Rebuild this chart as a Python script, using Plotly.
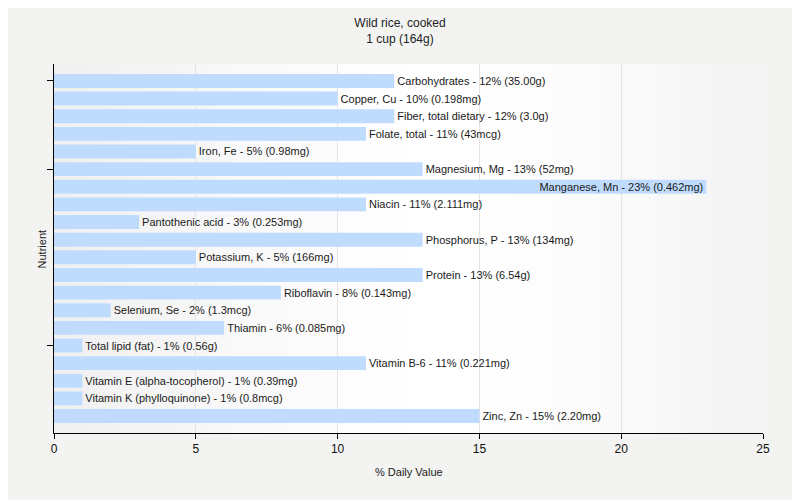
import plotly.graph_objects as go

nutrients = ["Carbohydrates", "Copper, Cu", "Fiber, total dietary", "Folate, total",
             "Iron, Fe", "Magnesium, Mg", "Manganese, Mn", "Niacin", "Pantothenic acid",
             "Phosphorus, P", "Potassium, K", "Protein", "Riboflavin", "Selenium, Se",
             "Thiamin", "Total lipid (fat)", "Vitamin B-6", "Vitamin E (alpha-tocopherol)",
             "Vitamin K (phylloquinone)", "Zinc, Zn"]
daily_value = [12, 10, 12, 11, 5, 13, 23, 11, 3, 13, 5, 13, 8, 2, 6, 1, 11, 1, 1, 15]
amounts = ["35.00g", "0.198mg", "3.0g", "43mcg", "0.98mg", "52mg", "0.462mg", "2.111mg",
           "0.253mg", "134mg", "166mg", "6.54g", "0.143mg", "1.3mcg", "0.085mg", "0.56g",
           "0.221mg", "0.39mg", "0.8mcg", "2.20mg"]
y_ticks = ["Carbohydrates", "Magnesium, Mg", "Total lipid (fat)"]
x_ticks = [0, 5, 10, 15, 20, 25]

FONT = "Liberation Sans, Arial, sans-serif"
labels = [f"{n} - {v}% ({a})" for n, v, a in zip(nutrients, daily_value, amounts)]
positions = ["inside" if v > 20 else "outside" for v in daily_value]

fig = go.Figure()
fig.add_trace(go.Bar(
    y=nutrients, x=daily_value, orientation="h",
    marker=dict(color="#bfdbfd", line=dict(width=0)),
    width=0.79,
    text=labels, textposition=positions, insidetextanchor="end",
    constraintext="none", textangle=0,
    textfont=dict(family=FONT, size=11, color="#1a1a1a"),
    cliponaxis=False, hoverinfo="skip",
))

# background gradient strips in the plot area
n = 40
for i in range(n):
    t = (i + 0.5) / n
    d = abs(t - 0.55) / 0.55
    g = int(round(255 - 15 * min(d, 1) ** 1.3))
    fig.add_shape(type="rect", xref="x domain", yref="y domain",
                  x0=i / n, x1=(i + 1) / n + 0.001, y0=0, y1=1,
                  fillcolor=f"rgb({g},{g},{g})", line=dict(width=0), layer="below")

fig.add_annotation(text="% Daily Value", xref="paper", yref="paper", x=0.5, y=-0.106,
                   yanchor="middle", showarrow=False, font=dict(family=FONT, size=11, color="#222"))
fig.add_annotation(text="Nutrient", xref="paper", yref="paper", x=-0.017, y=0.5,
                   xanchor="center", yanchor="middle", textangle=-90, showarrow=False,
                   font=dict(family=FONT, size=11, color="#222"))

fig.update_layout(
    width=800, height=500,
    margin=dict(l=46, r=45, t=56, b=75, autoexpand=False),
    paper_bgcolor="#f3f3f2", plot_bgcolor="rgba(0,0,0,0)",
    title=dict(text="Wild rice, cooked<br>1 cup (164g)", x=0.49, xref="container",
               xanchor="center", y=0.962, yanchor="top",
               font=dict(family=FONT, size=12, color="#222")),
    font=dict(family=FONT, size=11, color="#222"),
    showlegend=False,
)
fig.update_xaxes(
    range=[0, 25], tickvals=x_ticks, showgrid=True, gridcolor="#e4e4e4", gridwidth=1,
    showline=True, linecolor="black", linewidth=1, ticks="outside", ticklen=5,
    tickcolor="black", tickfont=dict(size=12, color="#111"), zeroline=False,
    automargin=False,
)
fig.update_yaxes(
    categoryorder="array", categoryarray=nutrients,
    range=[len(nutrients) - 1 + 0.96, -0.96],
    tickvals=y_ticks, showticklabels=False, ticks="outside", ticklen=6, tickcolor="black",
    showline=True, linecolor="black", linewidth=1, showgrid=False, zeroline=False,
    automargin=False,
)

fig.write_html("out.html")
